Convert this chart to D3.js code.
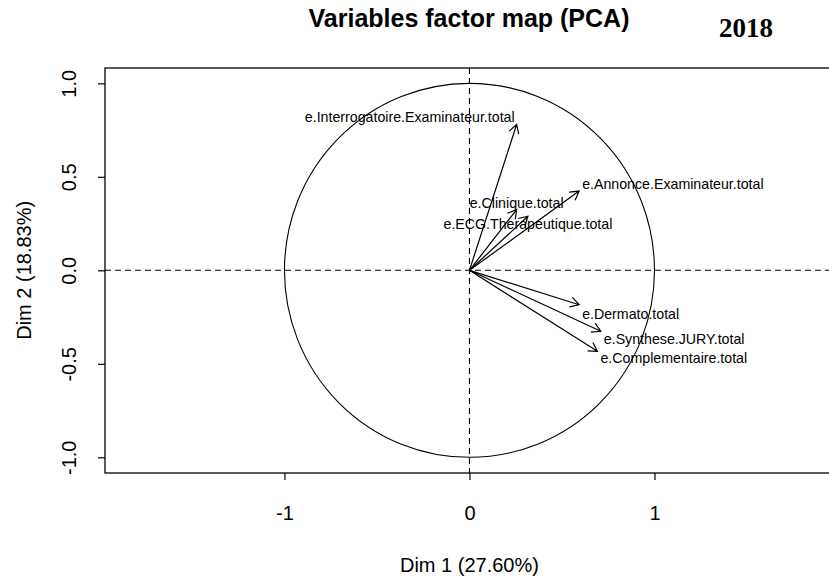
<!DOCTYPE html>
<html>
<head>
<meta charset="utf-8">
<script src="https://cdn.jsdelivr.net/npm/d3@7"></script>
<style>
  html, body { margin: 0; padding: 0; background: #fff; }
  svg { display: block; font-family: "Liberation Sans", Arial, sans-serif; }
</style>
</head>
<body>
<svg id="chart" width="829" height="580"></svg>
<script>
// ---- data ----
const variables = [
  "e.Interrogatoire.Examinateur.total",
  "e.Annonce.Examinateur.total",
  "e.Clinique.total",
  "e.ECG.Therapeutique.total",
  "e.Dermato.total",
  "e.Synthese.JURY.total",
  "e.Complementaire.total"
];
const dim1 = [0.255, 0.593, 0.255, 0.316, 0.593, 0.710, 0.692];
const dim2 = [0.780, 0.424, 0.325, 0.289, -0.184, -0.326, -0.433];
const xTicks = [-1, 0, 1];
const yTicks = [-1.0, -0.5, 0.0, 0.5, 1.0];
const title = "Variables factor map (PCA)";
const xLabel = "Dim 1 (27.60%)";
const yLabel = "Dim 2 (18.83%)";
const yearLabel = "2018";

// label placement (layout, not data): anchor and vertical offset in px
const labelAnchor = ["end", "start", "middle", "middle", "start", "start", "start"];
const labelDx = [-2, 3, 0, 0, 3, 3, 3];
const labelDy = [-7, -7, -7, 8, 9, 8, 7];

// ---- layout ----
const W = 829, H = 580;
const plot = { left: 105, right: 833, top: 68, bottom: 473 };
const svg = d3.select("#chart");

const x = d3.scaleLinear().domain([-1.97, 1.965]).range([plot.left, plot.right]);
const y = d3.scaleLinear().domain([-1.084, 1.082]).range([plot.bottom, plot.top]);

const fmtY = d => d3.format(".1f")(d).replace("\u2212", "-");
const fmtX = d => d3.format("d")(d).replace("\u2212", "-");

// axes
const gx = svg.append("g")
  .attr("transform", `translate(0,${plot.bottom})`)
  .call(d3.axisBottom(x).tickValues(xTicks).tickFormat(fmtX).tickSize(7).tickPadding(0));
gx.select(".domain").remove();
gx.selectAll("line").attr("stroke", "#000").attr("stroke-width", 1.2);
gx.selectAll("text").attr("font-size", 20).attr("fill", "#000").attr("dy", null).attr("y", 47);

const gy = svg.append("g")
  .attr("transform", `translate(${plot.left},0)`)
  .call(d3.axisLeft(y).tickValues(yTicks).tickFormat(fmtY).tickSize(7));
gy.select(".domain").remove();
gy.selectAll("line").attr("stroke", "#000").attr("stroke-width", 1.2);
gy.selectAll("text")
  .attr("font-size", 20).attr("fill", "#000")
  .attr("x", null).attr("dy", null)
  .attr("text-anchor", "middle")
  .attr("transform", "translate(-29,0) rotate(-90)");

// box
svg.append("rect")
  .attr("x", plot.left).attr("y", plot.top)
  .attr("width", plot.right - plot.left).attr("height", plot.bottom - plot.top)
  .attr("fill", "none").attr("stroke", "#000").attr("stroke-width", 1.3);

// dashed reference lines
svg.append("line")
  .attr("x1", plot.left).attr("x2", plot.right)
  .attr("y1", y(0)).attr("y2", y(0))
  .attr("stroke", "#000").attr("stroke-width", 1.1).attr("stroke-dasharray", "6,4");
svg.append("line")
  .attr("x1", x(0)).attr("x2", x(0))
  .attr("y1", plot.top).attr("y2", plot.bottom)
  .attr("stroke", "#000").attr("stroke-width", 1.1).attr("stroke-dasharray", "6,4");

// correlation circle
svg.append("ellipse")
  .attr("cx", x(0)).attr("cy", y(0))
  .attr("rx", x(1) - x(0)).attr("ry", y(0) - y(1))
  .attr("fill", "none").attr("stroke", "#000").attr("stroke-width", 1.1);

// arrows
const data = variables.map((v, i) => ({ name: v, d1: dim1[i], d2: dim2[i], i }));
const headLen = 10, headAng = Math.PI / 6;
const arrows = svg.append("g");
data.forEach(d => {
  const x0 = x(0), y0 = y(0), x1 = x(d.d1), y1 = y(d.d2);
  const a = Math.atan2(y1 - y0, x1 - x0);
  const p = d3.path();
  p.moveTo(x0, y0); p.lineTo(x1, y1);
  p.moveTo(x1 - headLen * Math.cos(a - headAng), y1 - headLen * Math.sin(a - headAng));
  p.lineTo(x1, y1);
  p.lineTo(x1 - headLen * Math.cos(a + headAng), y1 - headLen * Math.sin(a + headAng));
  arrows.append("path").attr("d", p.toString())
    .attr("fill", "none").attr("stroke", "#000").attr("stroke-width", 1.2);
});

// labels
svg.append("g").selectAll("text").data(data).join("text")
  .attr("x", d => x(d.d1) + labelDx[d.i])
  .attr("y", d => y(d.d2) + labelDy[d.i])
  .attr("dy", "0.35em")
  .attr("text-anchor", d => labelAnchor[d.i])
  .attr("font-size", 14.2)
  .attr("fill", "#000")
  .text(d => d.name);

// titles
svg.append("text")
  .attr("x", 469).attr("y", 27)
  .attr("text-anchor", "middle")
  .attr("font-size", 25).attr("font-weight", "bold")
  .text(title);
svg.append("text")
  .attr("x", 746).attr("y", 37)
  .attr("text-anchor", "middle")
  .attr("font-family", "'Liberation Serif', 'Times New Roman', serif")
  .attr("font-size", 27).attr("font-weight", "bold")
  .text(yearLabel);
svg.append("text")
  .attr("x", x(0)).attr("y", 572)
  .attr("text-anchor", "middle").attr("font-size", 20)
  .text(xLabel);
svg.append("text")
  .attr("transform", `translate(31,${y(0)}) rotate(-90)`)
  .attr("text-anchor", "middle").attr("font-size", 20)
  .text(yLabel);
</script>
</body>
</html>
